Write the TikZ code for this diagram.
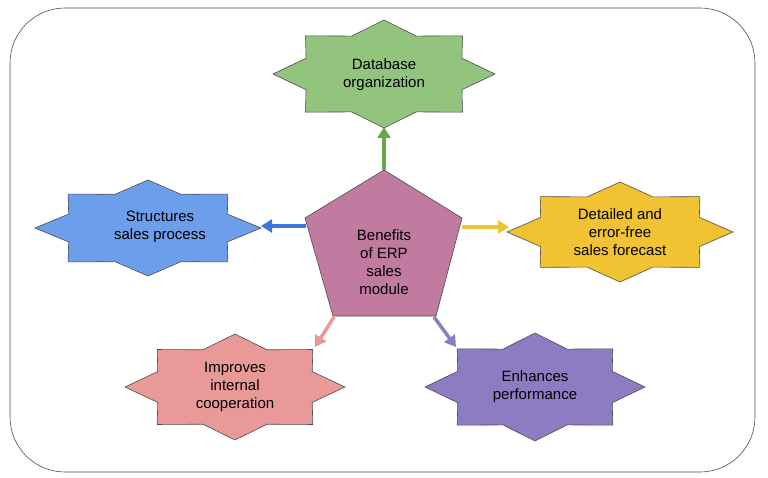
\documentclass[tikz,border=0pt]{standalone}
\usepackage{fontspec}
\setmainfont{Liberation Sans}
\usetikzlibrary{arrows.meta}
\definecolor{gfill}{HTML}{93C47D}\definecolor{garr}{HTML}{6AA84F}
\definecolor{bfill}{HTML}{6D9EEB}\definecolor{barr}{HTML}{3C78D8}
\definecolor{yfill}{HTML}{F1C232}\definecolor{yarr}{HTML}{F1C232}
\definecolor{pfill}{HTML}{EA9999}\definecolor{parr}{HTML}{EA9999}
\definecolor{vfill}{HTML}{8E7CC3}\definecolor{varr}{HTML}{8E7CC3}
\definecolor{cfill}{HTML}{C27BA0}
\newcommand{\mystar}[5]{% cx cy rx ry color
  \draw[draw=black!70,fill=#5,line width=0.6pt] (#1+#3,#2)
  \foreach \k in {1,...,15}{ -- ({#1+#3*(mod(\k,2)==1?0.76:1)*cos(22.5*\k)},{#2-#4*(mod(\k,2)==1?0.76:1)*sin(22.5*\k)}) } -- cycle;}
\begin{document}
\begin{tikzpicture}[x=1pt,y=-1pt,
  lab/.style={font=\fontsize{15}{18}\selectfont,align=center,text=black},
  arr/.style={line width=3.5pt,-{Triangle[length=11pt,width=13pt]}}]
\useasboundingbox (0,0) rectangle (768,478);
\draw[black!70,line width=0.6pt,rounded corners=55pt] (10,8) rectangle (755,472);
\mystar{384}{74}{111}{54}{gfill}
\mystar{148}{228}{113}{48}{bfill}
\mystar{620}{232}{113}{50}{yfill}
\mystar{235}{387}{110}{53}{pfill}
\mystar{535}{387}{110}{54}{vfill}
\draw[black!70,fill=cfill,line width=0.6pt] (384,170) -- (462,218) -- (436,316) -- (333,316) -- (305,218) -- cycle;
\node[lab] (g) at (384,75) {Database\\organization};
\node[lab] (b) at (160,227) {Structures\\sales process};
\node[lab] (y) at (620,232) {Detailed and\\error-free\\sales forecast};
\node[lab] (p) at (235,387) {Improves\\internal\\cooperation};
\node[lab] (v) at (535,387) {Enhances\\performance};
\node[lab] (c) at (384,262) {Benefits\\of ERP\\sales\\module};
\coordinate (cT) at (384,170); \coordinate (gB) at (384,127);
\coordinate (cL) at (306,226); \coordinate (bR) at (261,226);
\coordinate (cR) at (462,227); \coordinate (yL) at (509,227);
\coordinate (cBL) at (334,317); \coordinate (pT) at (315,347);
\coordinate (cBR) at (434,317); \coordinate (vT) at (456,347);
\draw[arr,garr] (cT) -- (gB);
\draw[arr,barr] (cL) -- (bR);
\draw[arr,yarr] (cR) -- (yL);
\draw[arr,parr] (cBL) -- (pT);
\draw[arr,varr] (cBR) -- (vT);
\end{tikzpicture}
\end{document}
